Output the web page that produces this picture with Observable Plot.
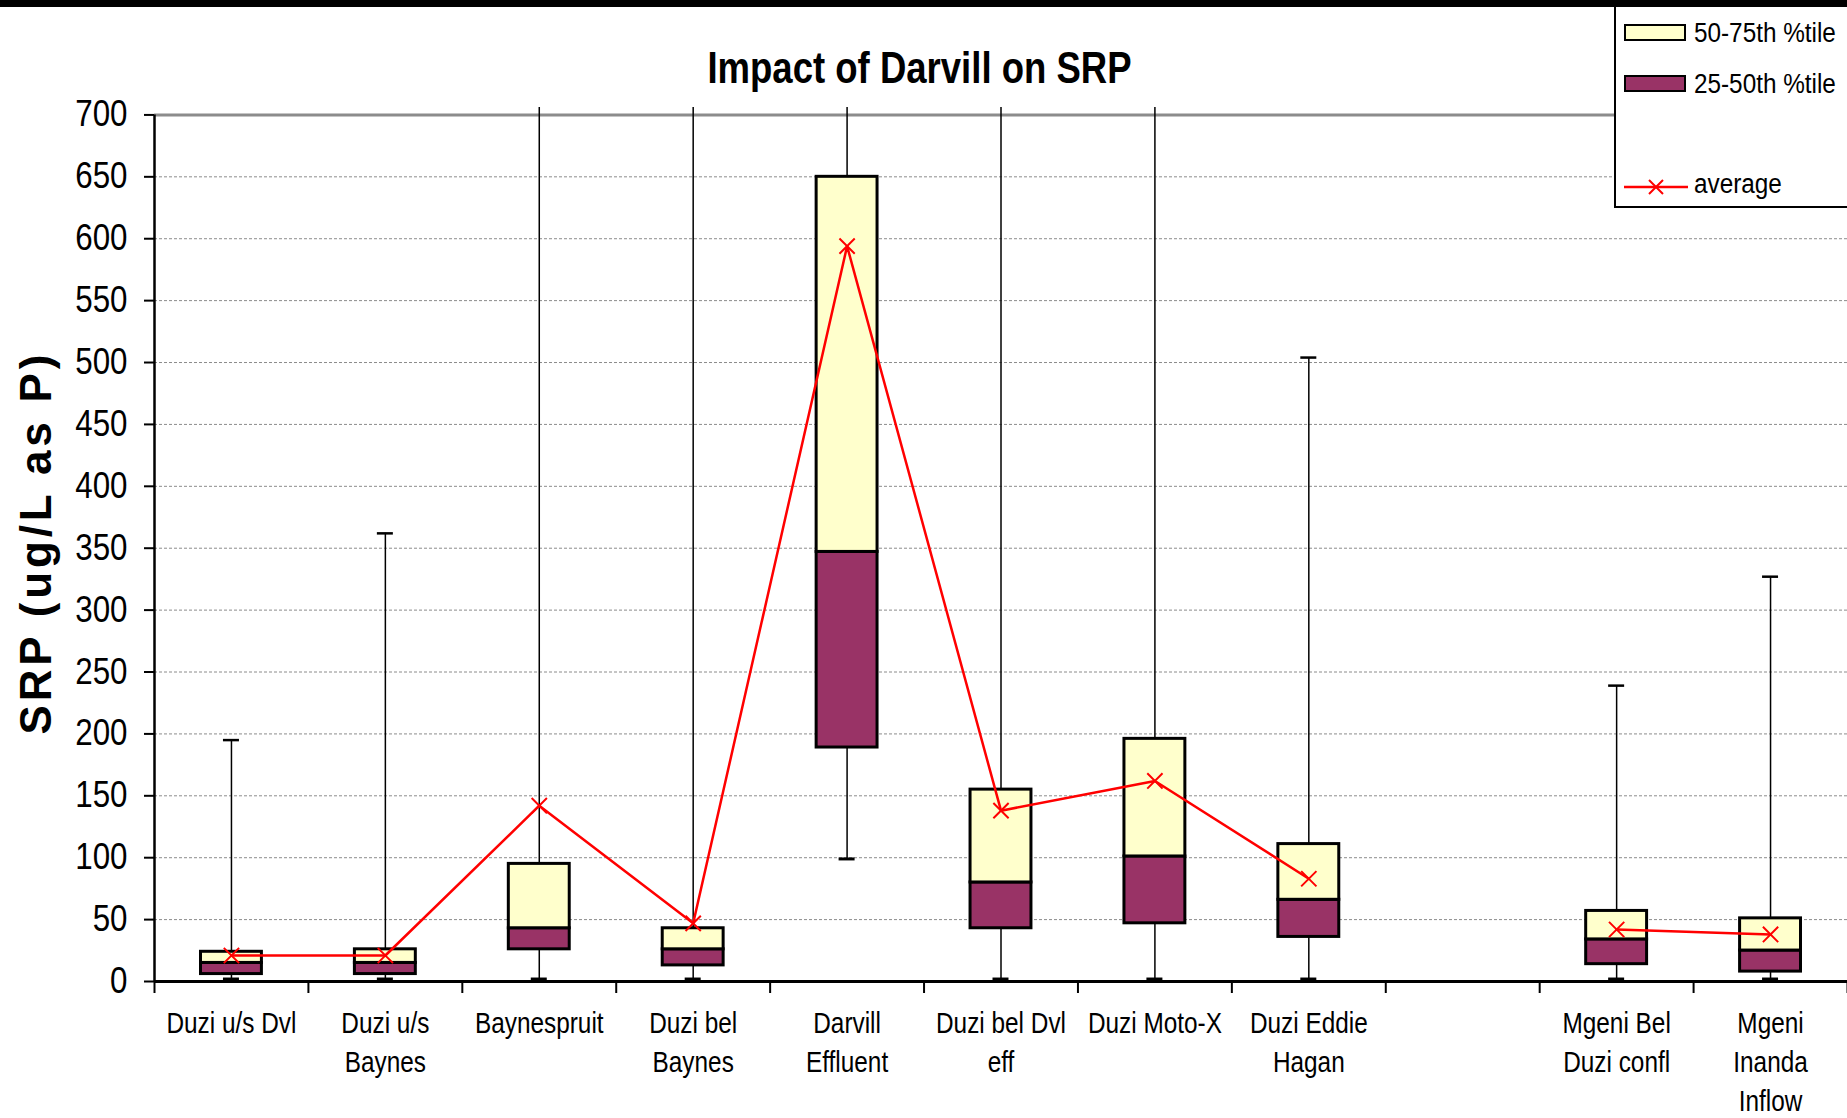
<!DOCTYPE html>
<html>
<head>
<meta charset="utf-8">
<script src="https://cdn.jsdelivr.net/npm/d3@7"></script>
<script src="https://cdn.jsdelivr.net/npm/@observablehq/plot@0.6"></script>
<style>
  body { margin: 0; background: #fff; }
  #wrap { position: relative; width: 1847px; height: 1118px; overflow: hidden;
          font-family: "Liberation Sans", Arial, sans-serif; color: #000; }
  #chart { position: absolute; left: 0; top: 0; }
  #topbar { position: absolute; left: 0; top: 0; width: 1847px; height: 7px; background: #000; z-index: 5; }
  #title { position: absolute; left: 419px; width: 1000px; top: 46px; text-align: center;
           font-size: 44px; font-weight: bold; line-height: 1; z-index: 3; }
  #title span { display: inline-block; transform: scaleX(0.83); transform-origin: 50% 50%; white-space: nowrap; }
  #legend { position: absolute; left: 1614px; top: 0; width: 260px; height: 208px; box-sizing: border-box;
            border: 2px solid #000; background: #fff; z-index: 4; }
  .sw { position: absolute; left: 8px; width: 62px; height: 17px; box-sizing: border-box; border: 2px solid #000; }
  .lt { position: absolute; left: 78px; font-size: 27px; line-height: 1; white-space: nowrap;
        transform: scaleX(0.9); transform-origin: 0 50%; }
</style>
</head>
<body>
<div id="wrap">
  <div id="chart"></div>
  <div id="topbar"></div>
  <div id="title"><span>Impact of Darvill on SRP</span></div>
  <div id="legend">
    <div class="sw" style="top:22px;background:#ffffcc"></div>
    <div class="lt" style="top:18px">50-75th %tile</div>
    <div class="sw" style="top:73px;background:#993366"></div>
    <div class="lt" style="top:69px">25-50th %tile</div>
    <svg style="position:absolute;left:8px;top:175px" width="64" height="20">
      <line x1="0" y1="10" x2="64" y2="10" stroke="#ff0000" stroke-width="2.5"/>
      <path d="M25,3L39,17M39,3L25,17" stroke="#ff0000" stroke-width="2"/>
    </svg>
    <div class="lt" style="top:169px">average</div>
  </div>
</div>
<script>
// Sampling sites (the empty entry is the blank slot between the Duzi and Mgeni groups)
const sites = [
  "Duzi u/s Dvl",
  "Duzi u/s\nBaynes",
  "Baynespruit",
  "Duzi bel\nBaynes",
  "Darvill\nEffluent",
  "Duzi bel Dvl\neff",
  "Duzi Moto-X",
  "Duzi Eddie\nHagan",
  "",
  "Mgeni Bel\nDuzi confl",
  "Mgeni\nInanda\nInflow"
];
// SRP (ug/L as P) statistics; 710 = maximum above the 700 axis limit (off scale)
const minValues = [2, 2, 2, 2, 99, 2, 2, 2, null, 2, 2];
const p25Values = [6, 6, 26, 13, 189, 43, 47, 36, null, 14, 8];
const p50Values = [15, 15, 43, 26, 347, 80, 101, 66, null, 34, 25];
const p75Values = [24, 26, 95, 43, 650, 155, 196, 111, null, 57, 51];
const maxValues = [195, 362, 710, 710, 710, 710, 710, 504, null, 239, 327];
const avgValues = [21, 21, 142, 47, 594, 138, 162, 83, null, 42, 38];
const yTicks = [0, 50, 100, 150, 200, 250, 300, 350, 400, 450, 500, 550, 600, 650, 700];

const rows = sites.map((site, i) => ({
  site,
  min: minValues[i], p25: p25Values[i], p50: p50Values[i],
  p75: p75Values[i], max: maxValues[i], avg: avgValues[i]
}));
const stats = rows.filter(d => d.p50 != null);
const half = (1847 - 154) / sites.length / 2;

const chart = Plot.plot({
  width: 1847,
  height: 1118,
  marginLeft: 154,
  marginRight: 0,
  marginTop: 107,
  marginBottom: 137,
  style: { fontFamily: '"Liberation Sans", Arial, sans-serif', color: "#000", background: "transparent" },
  x: { type: "band", domain: sites, padding: 0, round: false },
  y: { domain: [0, 706], clamp: true },
  marks: [
    Plot.gridY(yTicks.filter(t => t > 0 && t < 700), { stroke: "#8c8c8c", strokeOpacity: 1, strokeWidth: 1, strokeDasharray: "3,2" }),
    Plot.ruleY([700], { stroke: "#8c8c8c", strokeWidth: 3 }),
    // whiskers
    Plot.ruleX(stats, { x: "site", y1: "min", y2: "max", stroke: "#000", strokeWidth: 1.5 }),
    Plot.tickY(stats, { x: "site", y: "max", filter: d => d.max <= 700, stroke: "#000", strokeWidth: 2.5, insetLeft: half - 8, insetRight: half - 8 }),
    Plot.tickY(stats, { x: "site", y: "min", stroke: "#000", strokeWidth: 3, insetLeft: half - 8, insetRight: half - 8 }),
    // boxes
    Plot.barY(stats, { x: "site", y1: "p25", y2: "p50", fill: "#993366", stroke: "#000", strokeWidth: 3, insetLeft: 46.5, insetRight: 46.5 }),
    Plot.barY(stats, { x: "site", y1: "p50", y2: "p75", fill: "#ffffcc", stroke: "#000", strokeWidth: 3, insetLeft: 46.5, insetRight: 46.5 }),
    // axes lines
    Plot.ruleY([0], { stroke: "#000", strokeWidth: 3 }),
    Plot.ruleX([sites[0]], { dx: -half, y1: 0, y2: 700, stroke: "#000", strokeWidth: 2.5 }),
    Plot.ruleX(sites, { x: d => d, dx: -half, y1: 0, y2: 0, insetBottom: -12, stroke: "#000", strokeWidth: 2 }),
    Plot.ruleX([sites[sites.length - 1]], { dx: half, y1: 0, y2: 0, insetBottom: -12, stroke: "#000", strokeWidth: 2 }),
    // averages
    Plot.line(rows, { x: "site", y: "avg", stroke: "#ff0000", strokeWidth: 2.5 }),
    Plot.dot(stats, { x: "site", y: "avg", symbol: "times", r: 7, stroke: "#ff0000", strokeWidth: 2 }),
    // axes
    Plot.axisY({ ticks: yTicks, tickSize: 10, tickPadding: 17, fontSize: 36, label: null, strokeWidth: 2 }),
    Plot.axisX({ tickSize: 0, tickPadding: 23, fontSize: 29, lineHeight: 1.36, label: null }),
    Plot.text(["SRP (ug/L as P)"], { frameAnchor: "left", textAnchor: "middle", dx: -118, rotate: -90, fontSize: 44,
      fontWeight: "bold", fill: "#000" })
  ]
});
document.getElementById("chart").appendChild(chart);

// narrow the axis fonts (reference uses a condensed face)
function squeeze(sel, f) {
  chart.querySelectorAll(sel).forEach(t => {
    const spans = t.querySelectorAll("tspan");
    (spans.length ? spans : [t]).forEach(s => {
      const L = s.getComputedTextLength();
      s.setAttribute("textLength", L * f);
      s.setAttribute("lengthAdjust", "spacingAndGlyphs");
    });
  });
}
squeeze('g[aria-label="y-axis tick label"] text', 0.87);
squeeze('g[aria-label="x-axis tick label"] text', 0.84);
chart.querySelectorAll('g[aria-label="text"] text').forEach(t => {
  t.setAttribute("textLength", 380);
  t.setAttribute("lengthAdjust", "spacing");
});
</script>
</body>
</html>
